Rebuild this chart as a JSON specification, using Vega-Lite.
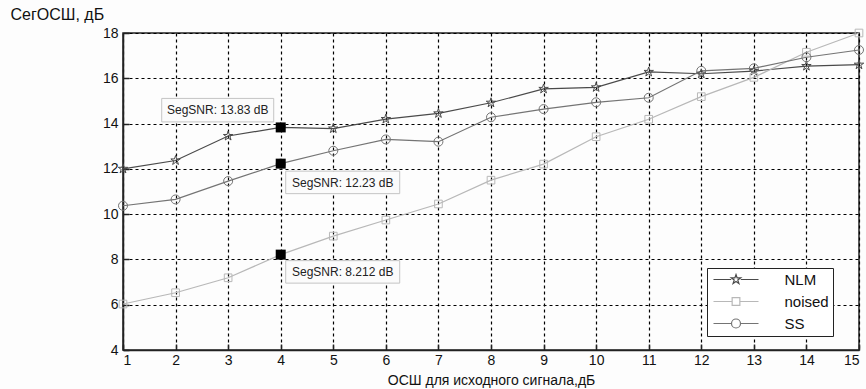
{
  "$schema": "https://vega.github.io/schema/vega-lite/v6.json",
  "width": 736,
  "height": 317,
  "autosize": {"type": "none"},
  "padding": {"left": 123, "top": 33, "right": 7, "bottom": 39},
  "background": "#fdfdfd",
  "data": {"values": [
    {"x": 1, "series": "NLM", "value": 12.0},
    {"x": 2, "series": "NLM", "value": 12.37},
    {"x": 3, "series": "NLM", "value": 13.45},
    {"x": 4, "series": "NLM", "value": 13.83},
    {"x": 5, "series": "NLM", "value": 13.78},
    {"x": 6, "series": "NLM", "value": 14.2},
    {"x": 7, "series": "NLM", "value": 14.45},
    {"x": 8, "series": "NLM", "value": 14.92},
    {"x": 9, "series": "NLM", "value": 15.53},
    {"x": 10, "series": "NLM", "value": 15.6},
    {"x": 11, "series": "NLM", "value": 16.28},
    {"x": 12, "series": "NLM", "value": 16.2},
    {"x": 13, "series": "NLM", "value": 16.32},
    {"x": 14, "series": "NLM", "value": 16.54},
    {"x": 15, "series": "NLM", "value": 16.6},
    {"x": 1, "series": "noised", "value": 6.03},
    {"x": 2, "series": "noised", "value": 6.53},
    {"x": 3, "series": "noised", "value": 7.19},
    {"x": 4, "series": "noised", "value": 8.212},
    {"x": 5, "series": "noised", "value": 9.03},
    {"x": 6, "series": "noised", "value": 9.74},
    {"x": 7, "series": "noised", "value": 10.45},
    {"x": 8, "series": "noised", "value": 11.5},
    {"x": 9, "series": "noised", "value": 12.21},
    {"x": 10, "series": "noised", "value": 13.42},
    {"x": 11, "series": "noised", "value": 14.19},
    {"x": 12, "series": "noised", "value": 15.19},
    {"x": 13, "series": "noised", "value": 16.04},
    {"x": 14, "series": "noised", "value": 17.15},
    {"x": 15, "series": "noised", "value": 18.0},
    {"x": 1, "series": "SS", "value": 10.37},
    {"x": 2, "series": "SS", "value": 10.65},
    {"x": 3, "series": "SS", "value": 11.46},
    {"x": 4, "series": "SS", "value": 12.23},
    {"x": 5, "series": "SS", "value": 12.8},
    {"x": 6, "series": "SS", "value": 13.3},
    {"x": 7, "series": "SS", "value": 13.2},
    {"x": 8, "series": "SS", "value": 14.28},
    {"x": 9, "series": "SS", "value": 14.64},
    {"x": 10, "series": "SS", "value": 14.94},
    {"x": 11, "series": "SS", "value": 15.14},
    {"x": 12, "series": "SS", "value": 16.33},
    {"x": 13, "series": "SS", "value": 16.44},
    {"x": 14, "series": "SS", "value": 16.93},
    {"x": 15, "series": "SS", "value": 17.25}
  ]},
  "encoding": {
    "x": {
      "field": "x", "type": "quantitative",
      "scale": {"domain": [1, 15], "nice": false, "zero": false},
      "axis": {
        "values": [1, 2, 3, 4, 5, 6, 7, 8, 9, 10, 11, 12, 13, 14, 15],
        "title": "ОСШ для исходного сигнала,дБ",
        "labelPadding": 9,
        "titleY": 30,
        "titleBaseline": "middle"
      }
    },
    "y": {
      "field": "value", "type": "quantitative",
      "scale": {"domain": [4, 18], "nice": false, "zero": false},
      "axis": {
        "values": [4, 6, 8, 10, 12, 14, 16, 18],
        "title": "СегОСШ, дБ",
        "titleAngle": 0,
        "titleAlign": "left",
        "titleBaseline": "middle",
        "titleFontSize": 16,
        "titleX": -113,
        "titleY": -19,
        "labelPadding": 11
      }
    }
  },
  "layer": [
    {
      "mark": {"type": "line", "strokeWidth": 1.2},
      "encoding": {
        "color": {"field": "series", "type": "nominal",
          "scale": {"domain": ["NLM", "noised", "SS"], "range": ["#4a4a4a", "#b8b8b8", "#747474"]},
          "legend": null}
      }
    },
    {
      "mark": {"type": "point", "filled": false, "size": 81, "strokeWidth": 1, "opacity": 1},
      "encoding": {
        "color": {"field": "series", "type": "nominal",
          "scale": {"domain": ["NLM", "noised", "SS"], "range": ["#4a4a4a", "#b8b8b8", "#747474"]},
          "legend": null},
        "shape": {"field": "series", "type": "nominal",
          "scale": {"domain": ["NLM", "noised", "SS"], "range": [
            "M0,-1.1L0.25,-0.34L1.05,-0.34L0.4,0.13L0.65,0.89L0,0.42L-0.65,0.89L-0.4,0.13L-1.05,-0.34L-0.25,-0.34Z",
            "M-0.85,-0.85L0.85,-0.85L0.85,0.85L-0.85,0.85Z",
            "M1,0A1,1 0 1,1 -1,0A1,1 0 1,1 1,0Z"]},
          "legend": null}
      }
    },
    {
      "data": {"values": []},
      "mark": {"type": "point", "filled": false, "size": 100, "strokeWidth": 1.2, "opacity": 1},
      "encoding": {
        "color": {"field": "series", "type": "nominal", "title": null,
          "scale": {"domain": ["NLM", "noised", "SS"], "range": ["#4a4a4a", "#b8b8b8", "#747474"]}},
        "shape": {"field": "series", "type": "nominal", "title": null,
          "scale": {"domain": ["NLM", "noised", "SS"], "range": [
            "M-4.5,0L-0.95,0M0.95,0L4.5,0M0,-0.99L0.225,-0.306L0.94,-0.306L0.36,0.117L0.58,0.8L0,0.378L-0.58,0.8L-0.36,0.117L-0.94,-0.306L-0.225,-0.306Z",
            "M-4.5,0L-0.77,0M0.77,0L4.5,0M-0.77,-0.77L0.77,-0.77L0.77,0.77L-0.77,0.77Z",
            "M-4.5,0L-0.9,0M0.9,0L4.5,0M0.9,0A0.9,0.9 0 1,1 -0.9,0A0.9,0.9 0 1,1 0.9,0Z"]}}
      }
    },
    {
      "transform": [{"filter": "datum.x == 4 && datum.series == 'NLM'"}],
      "mark": {"type": "point", "filled": true, "size": 10000, "fill": "#fbfbfb", "stroke": "#c4c4c4", "strokeWidth": 1, "opacity": 1,
        "shape": "M-2.38,-0.58L-0.14,-0.58L-0.14,-0.11L-2.38,-0.11Z"}
    },
    {
      "transform": [{"filter": "datum.x == 4 && datum.series == 'SS'"}],
      "mark": {"type": "point", "filled": true, "size": 10000, "fill": "#fbfbfb", "stroke": "#c4c4c4", "strokeWidth": 1, "opacity": 1,
        "shape": "M0.1,0.15L2.38,0.15L2.38,0.6L0.1,0.6Z"}
    },
    {
      "transform": [{"filter": "datum.x == 4 && datum.series == 'noised'"}],
      "mark": {"type": "point", "filled": true, "size": 10000, "fill": "#fbfbfb", "stroke": "#c4c4c4", "strokeWidth": 1, "opacity": 1,
        "shape": "M0.1,0.12L2.38,0.12L2.38,0.57L0.1,0.57Z"}
    },
    {
      "transform": [{"filter": "datum.x == 4 && datum.series == 'NLM'"}],
      "mark": {"type": "text", "text": {"expr": "'SegSNR: ' + format(datum.value, '.4') + ' dB'"},
        "dx": -63, "dy": -17, "fontSize": 12, "color": "#222", "align": "center", "baseline": "middle"}
    },
    {
      "transform": [{"filter": "datum.x == 4 && datum.series == 'SS'"}],
      "mark": {"type": "text", "text": {"expr": "'SegSNR: ' + format(datum.value, '.4') + ' dB'"},
        "dx": 62, "dy": 19, "fontSize": 12, "color": "#222", "align": "center", "baseline": "middle"}
    },
    {
      "transform": [{"filter": "datum.x == 4 && datum.series == 'noised'"}],
      "mark": {"type": "text", "text": {"expr": "'SegSNR: ' + format(datum.value, '.4') + ' dB'"},
        "dx": 62, "dy": 17, "fontSize": 12, "color": "#222", "align": "center", "baseline": "middle"}
    },
    {
      "transform": [{"filter": "datum.x == 4"}],
      "mark": {"type": "point", "shape": "square", "filled": true, "size": 100, "color": "#000", "opacity": 1}
    }
  ],
  "resolve": {
    "scale": {"shape": "independent", "color": "independent"},
    "legend": {"shape": "independent", "color": "independent"}
  },
  "config": {
    "font": "Liberation Sans",
    "view": {"stroke": "#222", "strokeWidth": 1.5},
    "axis": {
      "grid": true, "gridColor": "#000", "gridDash": [3, 3], "gridWidth": 1.2, "gridOpacity": 1,
      "tickSize": -6, "tickColor": "#222", "tickWidth": 1.5,
      "domainColor": "#222", "domainWidth": 1.5,
      "labelFontSize": 14, "labelColor": "#111", "labelFont": "Liberation Sans",
      "titleFontSize": 14, "titleFontWeight": "normal", "titleColor": "#111", "titleFont": "Liberation Sans"
    },
    "legend": {
      "orient": "none", "legendX": 584, "legendY": 235,
      "strokeColor": "#222", "fillColor": "#ffffff", "padding": 4,
      "symbolOffset": 17.5, "labelOffset": 41, "rowPadding": 6,
      "labelFontSize": 15, "labelColor": "#111", "labelFont": "Liberation Sans",
      "symbolSize": 100, "symbolStrokeWidth": 1.2
    }
  }
}
